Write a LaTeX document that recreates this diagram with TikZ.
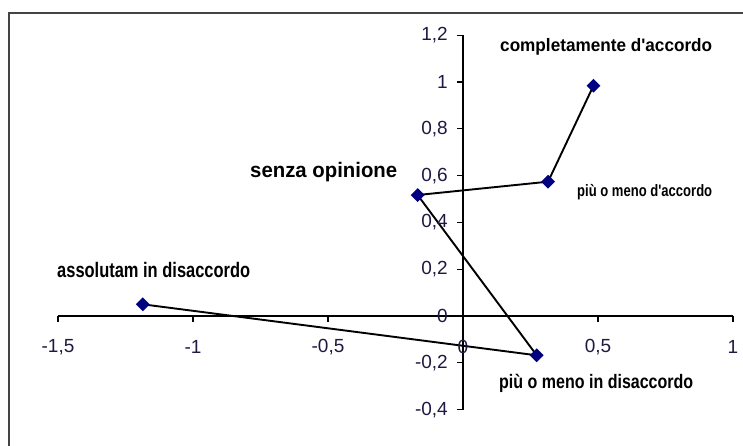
\documentclass[tikz,border=0pt]{standalone}
\usepackage{fontspec}
\setmainfont{Liberation Sans}
\usetikzlibrary{shapes.geometric,backgrounds}
\definecolor{marknavy}{RGB}{0,0,128}
\definecolor{framegray}{RGB}{68,68,68}
\definecolor{ticktext}{RGB}{30,25,65}
\newcommand\lbltext[3]{\resizebox{#1}{\height}{\fontsize{#2}{#2}\selectfont\bfseries #3}}
\tikzset{
  datamark/.style={shape=diamond, fill=marknavy, draw=none, inner sep=0pt, minimum width=14pt, minimum height=14pt},
  dataline/.style={line width=1.9pt, black},
  axisline/.style={line width=1.2pt, black},
  ylab/.style={anchor=east, inner sep=0pt, text=ticktext, font=\fontsize{19}{19}\selectfont},
  xlab/.style={anchor=center, inner sep=0pt, text=ticktext, font=\fontsize{19}{19}\selectfont},
  ptlabel/.style={anchor=base west, inner sep=0pt, text=black}
}
\begin{document}
\begin{tikzpicture}[x=1pt,y=1pt]
\useasboundingbox (0,0) rectangle (743,-445);
% chart frame (only left and top edges visible)
\draw[framegray, line width=1.5pt] (9,-460) -- (9,-13) -- (760,-13);
\begin{scope}[shift={(463pt,-316pt)}, x=270pt, y=234pt]
  % axes
  \draw[axisline] (-1.5,0) -- (1,0);
  \draw[axisline] (0,-0.4) -- (0,1.2);
  \foreach \t/\s in {-1.5/{-1,5},-1/{-1},-0.5/{-0,5},0/{0},0.5/{0,5},1/{1}}{
    \draw[axisline] (\t,0) -- ++(0,-6pt);
    \node[xlab] at ([yshift=-31pt]\t,0) {\s};
  }
  \foreach \t/\s in {-0.4/{-0,4},-0.2/{-0,2},0/{0},0.2/{0,2},0.4/{0,4},0.6/{0,6},0.8/{0,8},1/{1},1.2/{1,2}}{
    \draw[axisline] (0,\t) -- ++(-6pt,0);
    \node[ylab] at ([xshift=-15pt]0,\t) {\s};
  }
  % data points
  \node[datamark] (compl) at (0.483,0.984) {};
  \node[datamark] (pdacc) at (0.315,0.574) {};
  \node[datamark] (senza) at (-0.168,0.517) {};
  \node[datamark] (pdis) at (0.273,-0.168) {};
  \node[datamark] (assol) at (-1.186,0.05) {};
  \begin{scope}[on background layer]
    \draw[dataline] (compl.center) -- (pdacc.center) -- (senza.center) -- (pdis.center) -- (assol.center);
  \end{scope}
\end{scope}
% point labels
\node[ptlabel] (lcompl) at (500,-51) {\lbltext{212pt}{18}{completamente d\textquotesingle accordo}};
\node[ptlabel] (lsenza) at (250,-177) {\lbltext{147pt}{21}{senza opinione}};
\node[ptlabel] (lpdacc) at (577,-196) {\lbltext{135pt}{16.5}{più o meno d\textquotesingle accordo}};
\node[ptlabel] (lassol) at (57,-277) {\lbltext{193pt}{21}{assolutam in disaccordo}};
\node[ptlabel] (lpdis) at (499,-388) {\lbltext{194pt}{19.5}{più o meno in disaccordo}};
\end{tikzpicture}
\end{document}
